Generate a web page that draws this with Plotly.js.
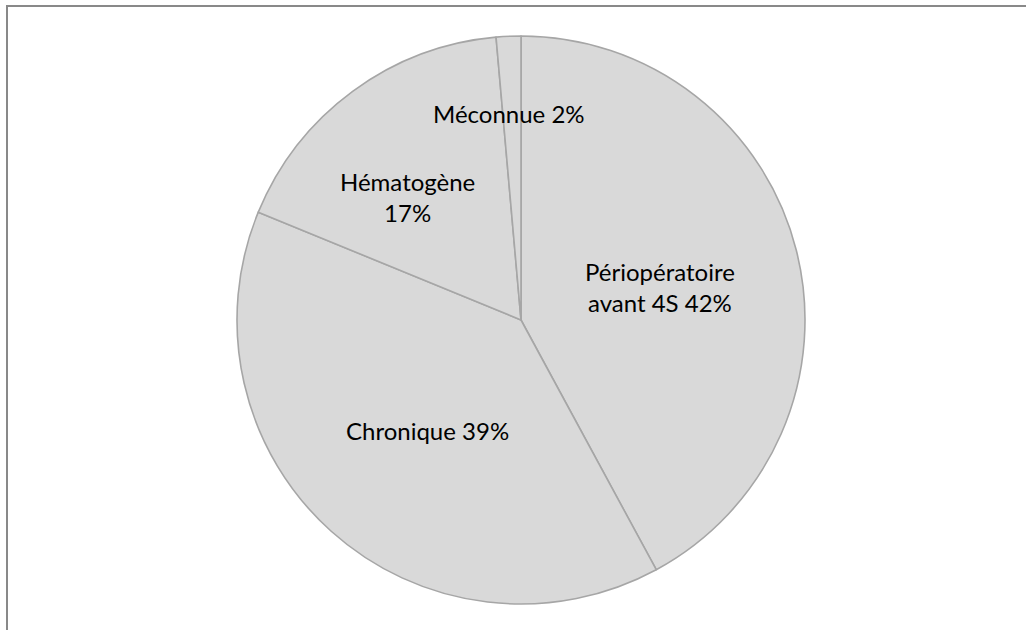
<!DOCTYPE html>
<html>
<head>
<meta charset="utf-8">
<script src="https://cdn.plot.ly/plotly-3.0.1.min.js"></script>
<style>html,body{margin:0;padding:0;background:#fff;}#chart{width:1026px;height:630px;}</style>
</head>
<body>
<div id="chart"></div>
<script>
// Categories (clockwise from 12 o'clock)
const categories = ["Périopératoire avant 4S", "Chronique", "Hématogène", "Méconnue"];
// Slice shares
const shares = [42.1, 39.1, 17.4, 1.4];
// Percent labels as printed on the chart
const percentLabels = ["42%", "39%", "17%", "2%"];
// Label texts with the reference's line breaks
const labelTexts = ["Périopératoire<br>avant 4S " + percentLabels[0],
                    "Chronique " + percentLabels[1],
                    "Hématogène<br>" + percentLabels[2],
                    "Méconnue " + percentLabels[3]];

const W = 1026, H = 630;
const px = (x) => x / W;
const py = (y) => 1 - y / H;

const trace = {
  type: "pie",
  labels: categories,
  values: shares,
  sort: false,
  direction: "clockwise",
  rotation: 0,
  textinfo: "none",
  hoverinfo: "label+percent",
  marker: {
    colors: categories.map(() => "#d9d9d9"),
    line: { color: "#a6a6a6", width: 1.6 }
  },
  domain: { x: [px(237), px(805)], y: [py(604), py(36)] },
  showlegend: false
};

const labelPos = [[660, 287], [427, 430], [407, 197], [509, 113]];
const font = { family: "Lato, 'Open Sans', sans-serif", size: 24, color: "#000" };

const annotations = labelTexts.map((t, i) => ({
  text: t,
  x: px(labelPos[i][0]), y: py(labelPos[i][1]),
  xref: "paper", yref: "paper",
  xanchor: "center", yanchor: "middle",
  showarrow: false, align: "center",
  font: font
}));

const layout = {
  width: W, height: H,
  margin: { l: 0, r: 0, t: 0, b: 0 },
  paper_bgcolor: "#fff",
  plot_bgcolor: "#fff",
  showlegend: false,
  annotations: annotations,
  shapes: [{
    type: "rect", xref: "paper", yref: "paper",
    x0: px(7), x1: px(1040), y0: py(645), y1: py(6),
    line: { color: "#898989", width: 2 },
    fillcolor: "rgba(0,0,0,0)",
    layer: "below"
  }]
};

Plotly.newPlot("chart", [trace], layout, { displayModeBar: false, staticPlot: true });
</script>
</body>
</html>
